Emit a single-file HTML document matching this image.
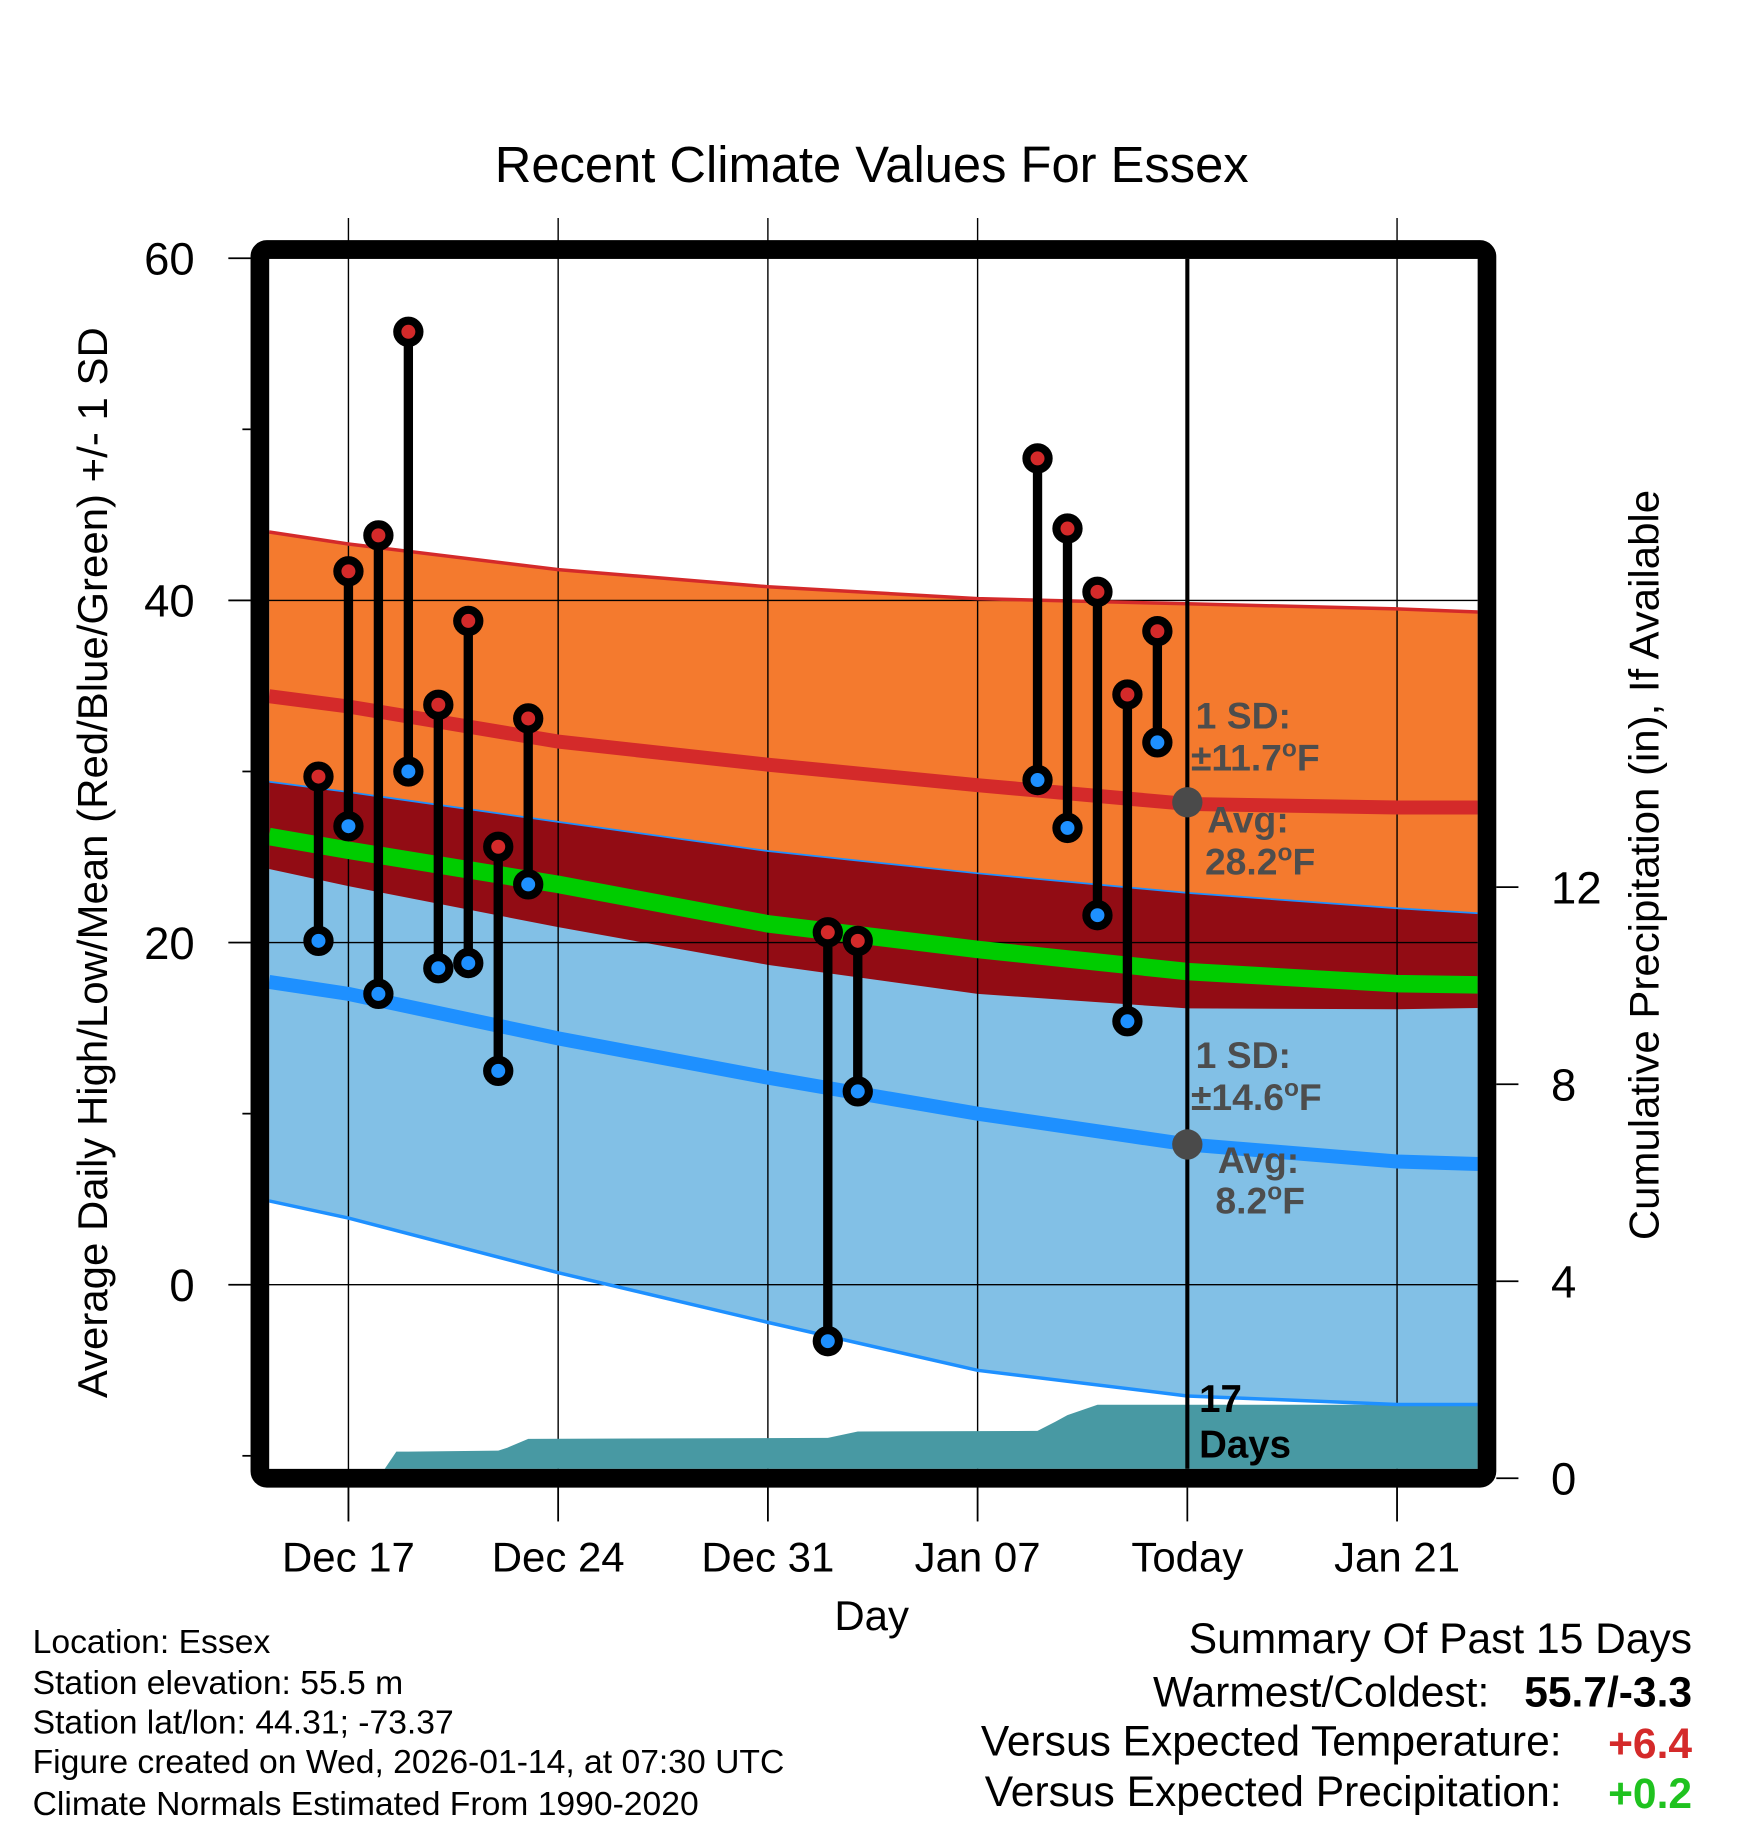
<!DOCTYPE html>
<html><head><meta charset="utf-8"><style>
html,body{margin:0;padding:0;background:#fff;}
svg{display:block;font-family:"Liberation Sans",Arial,sans-serif;}
</style></head><body>
<svg id="chart" width="1748" height="1828" viewBox="0 0 1500 1568" preserveAspectRatio="none" xmlns="http://www.w3.org/2000/svg">
<defs><clipPath id="plotclip"><rect x="231" y="222" width="1037" height="1038"/></clipPath></defs>
<text x="748" y="156" font-size="43.5" text-anchor="middle">Recent Climate Values For Essex</text>
<g id="bands" clip-path="url(#plotclip)"></g>
<g id="grid"></g>
<g id="precip" clip-path="url(#plotclip)"></g>
<g id="lines" clip-path="url(#plotclip)"></g>
<g id="obs"></g>
<g id="annot"></g>
<rect x="223" y="214" width="1053" height="1054" rx="6" fill="none" stroke="#000" stroke-width="16"/>
<g id="axes"></g>
<text transform="translate(92,740) rotate(-90)" font-size="36" text-anchor="middle">Average Daily High/Low/Mean (Red/Blue/Green) +/- 1 SD</text>
<text transform="translate(1423,742) rotate(-90)" font-size="36" text-anchor="middle">Cumulative Precipitation (in), If Available</text>
<text x="748" y="1398" font-size="36" text-anchor="middle">Day</text>
<g font-size="28.9">
<text x="28" y="1418">Location: Essex</text>
<text x="28" y="1453">Station elevation: 55.5 m</text>
<text x="28" y="1487">Station lat/lon: 44.31; -73.37</text>
<text x="28" y="1521">Figure created on Wed, 2026-01-14, at 07:30 UTC</text>
<text x="28" y="1557">Climate Normals Estimated From 1990-2020</text>
</g>
<g font-size="36.5">
<text x="1452" y="1418" text-anchor="end">Summary Of Past 15 Days</text>
<text x="1278" y="1464" text-anchor="end">Warmest/Coldest:</text>
<text x="1452" y="1464" text-anchor="end" font-weight="bold">55.7/-3.3</text>
<text x="1340" y="1506" text-anchor="end">Versus Expected Temperature:</text>
<text x="1452" y="1508" text-anchor="end" font-weight="bold" fill="#d42a2a">+6.4</text>
<text x="1340" y="1549" text-anchor="end">Versus Expected Precipitation:</text>
<text x="1452" y="1551" text-anchor="end" font-weight="bold" fill="#1fc21f">+0.2</text>
</g>
</svg>
<script>
// days are relative to Dec 17
const normDays = [-2.65, 0, 7, 14, 21, 28, 35, 38.7];
const highPlusSD = [44.0, 43.3, 41.8, 40.8, 40.1, 39.8, 39.5, 39.25];
const highMean  = [34.4, 33.8, 31.75, 30.4, 29.2, 28.1, 27.9, 27.9];
const highMinusSD = [24.3, 23.3, 20.9, 18.7, 17.0, 16.15, 16.1, 16.2];
const meanMean = [26.2, 25.4, 23.4, 21.1, 19.6, 18.3, 17.6, 17.5];
const lowPlusSD = [29.4, 28.8, 27.05, 25.35, 24.05, 22.9, 22.0, 21.6];
const lowMean = [17.7, 17.0, 14.4, 12.1, 10.0, 8.2, 7.2, 7.0];
const lowMinusSD = [4.9, 3.9, 0.7, -2.2, -5.0, -6.5, -7.0, -7.0];
const obsDays = [-1, 0, 1, 2, 3, 4, 5, 6, 16, 17, 23, 24, 25, 26, 27];
const obsHigh = [29.7, 41.7, 43.8, 55.7, 33.9, 38.8, 25.6, 33.1, 20.6, 20.1, 48.3, 44.2, 40.5, 34.5, 38.2];
const obsLow = [20.1, 26.8, 17.0, 30.0, 18.5, 18.8, 12.5, 23.4, -3.3, 11.3, 29.5, 26.7, 21.6, 15.4, 31.7];
const precipDays = [0, 1, 1.6, 2, 5, 5.3, 6, 16, 17, 23, 23.6, 24, 25, 38.7];
const precipVals = [0, 0, 0.54, 0.54, 0.56, 0.62, 0.80, 0.82, 0.95, 0.96, 1.15, 1.28, 1.49, 1.49];
const tempTicks = [60, 40, 20, 0];
const tempMinor = [50, 30, 10, -10];
const precipTicks = [0, 4, 8, 12];
const xTickDays = [0, 7, 14, 21, 28, 35];
const xTickLabels = ["Dec 17", "Dec 24", "Dec 31", "Jan 07", "Today", "Jan 21"];

const NS = "http://www.w3.org/2000/svg";
const X = d => 299 + d * 25.71;
const Y = t => 1102 - t * 14.675;
const P = p => 1268 - p * 42.25;
function mk(tag, attrs, parent) {
  const e = document.createElementNS(NS, tag);
  for (const k in attrs) e.setAttribute(k, attrs[k]);
  parent.appendChild(e);
  return e;
}
function linePts(days, vals, f) { return days.map((d, i) => X(d).toFixed(1) + "," + f(vals[i]).toFixed(1)).join(" "); }
function bandPts(days, top, bot) {
  const a = days.map((d, i) => X(d).toFixed(1) + "," + Y(top[i]).toFixed(1));
  const b = days.map((d, i) => X(d).toFixed(1) + "," + Y(bot[i]).toFixed(1)).reverse();
  return a.concat(b).join(" ");
}
const bands = document.getElementById('bands');
let e;
e = mk('polygon', {points: bandPts(normDays, highPlusSD, highMinusSD), fill: '#f47a2e'}, bands);


e = mk('polygon', {points: bandPts(normDays, lowPlusSD, lowMinusSD), fill: '#82c0e6'}, bands);


e = mk('polygon', {points: bandPts(normDays, lowPlusSD, highMinusSD), fill: '#920c14'}, bands);



const grid = document.getElementById('grid');
xTickDays.forEach((d, i) => {
  if (xTickLabels[i] === 'Today') return;
  const g = mk('line', {x1: X(d), x2: X(d), y1: 187, y2: 1305, stroke: '#000', 'stroke-width': 1.2}, grid);
  
  
});
tempTicks.forEach(t => {
  const g = mk('line', {x1: 196, x2: 1268, y1: Y(t), y2: Y(t), stroke: '#000', 'stroke-width': 1.2}, grid);
  
  
});

const precip = document.getElementById('precip');
const pp = precipDays.map((d, i) => X(d).toFixed(1) + "," + P(precipVals[i]).toFixed(1));
pp.push(X(precipDays[precipDays.length - 1]).toFixed(1) + "," + P(0));
pp.push(X(precipDays[0]).toFixed(1) + "," + P(0));
e = mk('polygon', {points: pp.join(" "), fill: '#4899a3'}, precip);



const lines = document.getElementById('lines');
e = mk('polyline', {points: linePts(normDays, highPlusSD, Y), fill: 'none', stroke: '#d42a2a', 'stroke-width': 3}, lines);


e = mk('polyline', {points: linePts(normDays, lowPlusSD, Y), fill: 'none', stroke: '#1e90ff', 'stroke-width': 1.5}, lines);


e = mk('polyline', {points: linePts(normDays, lowMinusSD, Y), fill: 'none', stroke: '#1e90ff', 'stroke-width': 3}, lines);


e = mk('polyline', {points: linePts(normDays, highMean, Y), fill: 'none', stroke: '#d42a2a', 'stroke-width': 12}, lines);


e = mk('polyline', {points: linePts(normDays, meanMean, Y), fill: 'none', stroke: '#00cc00', 'stroke-width': 15}, lines);


e = mk('polyline', {points: linePts(normDays, lowMean, Y), fill: 'none', stroke: '#1e90ff', 'stroke-width': 12}, lines);



e = mk('line', {x1: X(28), x2: X(28), y1: 222, y2: 1260, stroke: '#000', 'stroke-width': 3.5}, lines);



const obs = document.getElementById('obs');
obsDays.forEach((d, i) => {
  const x = X(d), yh = Y(obsHigh[i]), yl = Y(obsLow[i]);
  let s = mk('line', {x1: x, x2: x, y1: yh, y2: yl, stroke: '#000', 'stroke-width': 8}, obs);
  
  
  let h = mk('circle', {cx: x, cy: yh, r: 9.5, fill: '#d42a2a', stroke: '#000', 'stroke-width': 7}, obs);
  
  
  let l = mk('circle', {cx: x, cy: yl, r: 9.5, fill: '#1e90ff', stroke: '#000', 'stroke-width': 7}, obs);
  
  
});

const annot = document.getElementById('annot');
function txt(s, x, y, size, fill, name, weight) {
  const t = mk('text', {x: x, y: y, 'font-size': size, fill: fill, 'font-weight': weight || 'bold'}, annot);
  t.innerHTML = s;
  
  
}
e = mk('circle', {cx: X(28), cy: Y(28.2), r: 13, fill: '#4a4a4a'}, annot);


e = mk('circle', {cx: X(28), cy: Y(8.2), r: 13, fill: '#4a4a4a'}, annot);


txt('1 SD:', 1026, 625, 32, '#4d4d4d', 'high-sd-label');
txt('±11.7<tspan dy="-12" font-size="21">o</tspan><tspan dy="12">F</tspan>', 1022, 661, 32, '#4d4d4d', 'high-sd-value');
txt('Avg:', 1036, 714, 32, '#4d4d4d', 'high-avg-label');
txt('28.2<tspan dy="-12" font-size="21">o</tspan><tspan dy="12">F</tspan>', 1034, 750, 32, '#4d4d4d', 'high-avg-value');
txt('1 SD:', 1026, 916, 32, '#4d4d4d', 'low-sd-label');
txt('±14.6<tspan dy="-12" font-size="21">o</tspan><tspan dy="12">F</tspan>', 1022, 952, 32, '#4d4d4d', 'low-sd-value');
txt('Avg:', 1045, 1006, 32, '#4d4d4d', 'low-avg-label');
txt('8.2<tspan dy="-12" font-size="21">o</tspan><tspan dy="12">F</tspan>', 1043, 1041, 32, '#4d4d4d', 'low-avg-value');
txt('17', 1029, 1211, 33, '#000', 'days-count');
txt('Days', 1029, 1250, 33, '#000', 'days-label');

const axes = document.getElementById('axes');
tempTicks.forEach(t => {
  let k = mk('line', {x1: 196, x2: 215, y1: Y(t), y2: Y(t), stroke: '#000', 'stroke-width': 1.5}, axes);
  
  
  let l = mk('text', {x: 167, y: Y(t) + 14, 'font-size': 39, 'text-anchor': 'end'}, axes);
  l.textContent = t;
  
  
});
tempMinor.forEach(t => {
  let k = mk('line', {x1: 208, x2: 215, y1: Y(t), y2: Y(t), stroke: '#000', 'stroke-width': 1.5}, axes);
  
  
});
precipTicks.forEach(p => {
  let k = mk('line', {x1: 1284, x2: 1303, y1: P(p), y2: P(p), stroke: '#000', 'stroke-width': 1.5}, axes);
  
  
  let l = mk('text', {x: 1331, y: P(p) + 14, 'font-size': 39}, axes);
  l.textContent = p;
  
  
});
xTickDays.forEach((d, i) => {
  let k = mk('line', {x1: X(d), x2: X(d), y1: 1276, y2: 1305, stroke: '#000', 'stroke-width': 1.5}, axes);
  
  
  let l = mk('text', {x: X(d), y: 1348, 'font-size': 36, 'text-anchor': 'middle'}, axes);
  l.textContent = xTickLabels[i];
  
  
});
</script>
</body></html>
